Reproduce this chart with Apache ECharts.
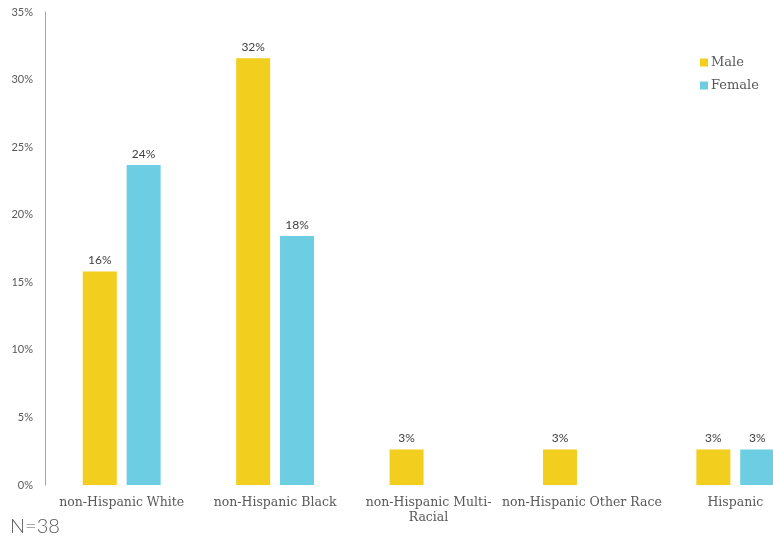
<!DOCTYPE html>
<html>
<head>
<meta charset="utf-8">
<script src="https://cdn.jsdelivr.net/npm/echarts@6/dist/echarts.min.js"></script>
<style>
  html, body { margin: 0; padding: 0; background: #fff; overflow: hidden; }
  /* the plot runs past the right edge of the view, so the last bar is cut */
  #view { width: 773px; height: 538px; overflow: hidden; }
  #chart { width: 812px; height: 538px; }
</style>
</head>
<body>
<div id="view"><div id="chart"></div></div>
<script>
// Share of cases (N=38) by race/ethnicity and sex, in percent
const categories = [
  'non-Hispanic White',
  'non-Hispanic Black',
  'non-Hispanic Multi-Racial',
  'non-Hispanic Other Race',
  'Hispanic'
];
const maleValues = [15.79, 31.58, 2.63, 2.63, 2.63];
const femaleValues = [23.68, 18.42, null, null, 2.63];
const seriesNames = ['Male', 'Female'];
const yTicks = [0, 5, 10, 15, 20, 25, 30, 35];
const sampleNote = 'N=38';

const YELLOW = '#F2CE1F';
const BLUE = '#6DCEE3';
const TEXT = '#595959';

const chart = echarts.init(document.getElementById('chart'), null, { renderer: 'canvas' });

const labelStyle = {
  show: true,
  position: 'top',
  distance: 5,
  fontFamily: 'Lato',
  fontSize: 12,
  color: '#404040',
  formatter: p => (p.value == null ? '' : Math.round(p.value) + '%')
};

chart.setOption({
  animation: false,
  textStyle: { fontFamily: 'Lato', color: TEXT },
  title: {
    text: sampleNote,
    left: 5,
    top: 512,
    textStyle: { fontFamily: 'Lato', fontWeight: 300, fontSize: 20, color: TEXT }
  },
  legend: {
    orient: 'vertical',
    left: 695,
    top: 51,
    itemWidth: 8,
    itemHeight: 8,
    itemGap: 10,
    icon: 'rect',
    data: seriesNames,
    textStyle: { fontFamily: 'DejaVu Serif', fontSize: 13, color: TEXT, padding: [0, 0, 0, -2] }
  },
  grid: {
    left: 45,
    top: 12,
    right: 0,
    bottom: 53,
    containLabel: false
  },
  xAxis: {
    type: 'category',
    data: categories,
    axisLine: { show: false },
    axisTick: { show: false },
    axisLabel: {
      interval: 0,
      margin: 10,
      fontFamily: 'DejaVu Serif',
      fontSize: 12.5,
      lineHeight: 15,
      color: TEXT,
      formatter: v => v.replace('Multi-Racial', 'Multi-\nRacial')
    }
  },
  yAxis: {
    type: 'value',
    min: yTicks[0],
    max: yTicks[yTicks.length - 1],
    interval: 5,
    axisLine: { show: true, lineStyle: { color: '#A6A6A6', width: 1 } },
    axisTick: { show: false },
    splitLine: { show: false },
    axisLabel: {
      margin: 12,
      fontFamily: 'Lato',
      fontSize: 11,
      color: TEXT,
      formatter: v => v + '%'
    }
  },
  series: [
    {
      name: seriesNames[0],
      type: 'bar',
      data: maleValues,
      barWidth: 34,
      barGap: '29%',
      itemStyle: { color: YELLOW },
      label: labelStyle
    },
    {
      name: seriesNames[1],
      type: 'bar',
      data: femaleValues,
      barWidth: 34,
      barGap: '29%',
      itemStyle: { color: BLUE },
      label: labelStyle
    }
  ]
});
</script>
</body>
</html>
